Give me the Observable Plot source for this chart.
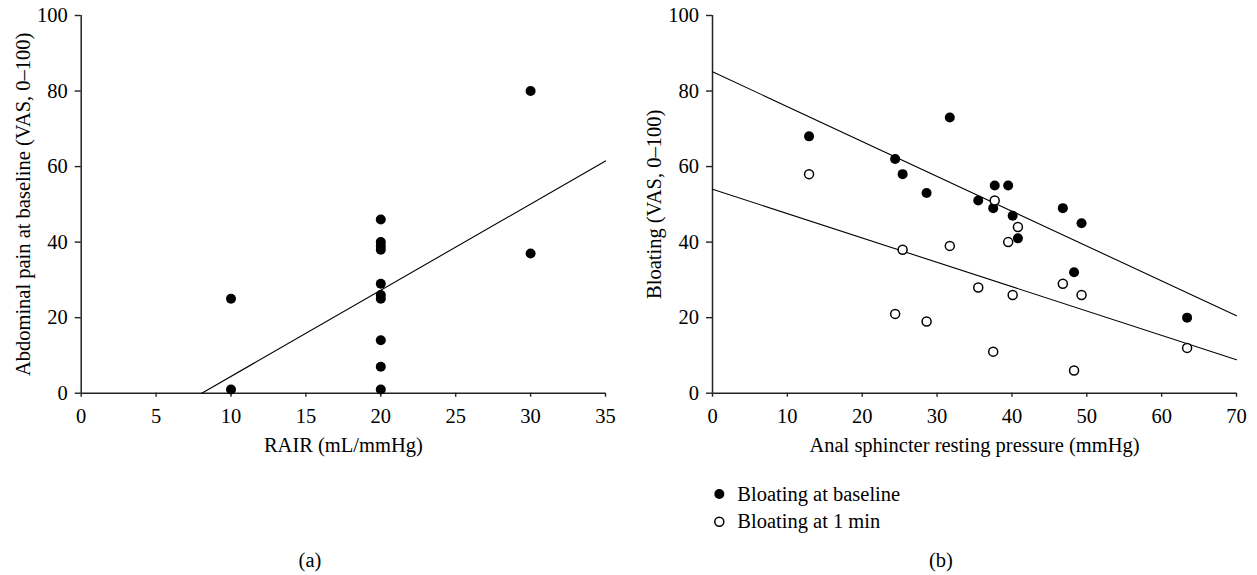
<!DOCTYPE html>
<html><head><meta charset="utf-8">
<script src="https://cdn.jsdelivr.net/npm/d3@7"></script>
<script src="https://cdn.jsdelivr.net/npm/@observablehq/plot@0.6"></script>
<style>
body{margin:0;background:#fff;}
#wrap{position:relative;width:1257px;height:575px;font-family:"Liberation Serif",serif;color:#000;background:#fff;overflow:hidden;}
.p{position:absolute;top:0;}
#overlay{position:absolute;left:0;top:0;}
</style></head><body><div id="wrap"></div>
<script>
// Panel (a)
const rairX = [10, 10, 20, 20, 20, 20, 20, 20, 20, 20, 20, 20, 30, 30];
const painY = [25, 1, 46, 40, 39, 38, 29, 26, 25, 14, 7, 1, 80, 37];
const fitA_x = [8.05, 35];
const fitA_y = [0, 61.5];
const ticksA_x = [0, 5, 10, 15, 20, 25, 30, 35];
const ticksY = [0, 20, 40, 60, 80, 100];

// Panel (b)
const pressureX = [12.9, 24.4, 25.4, 28.6, 31.7, 35.5, 37.5, 37.7, 39.5, 40.1, 40.8, 46.8, 48.3, 49.3, 63.4];
const bloatBaseline = [68, 62, 58, 53, 73, 51, 49, 55, 55, 47, 41, 49, 32, 45, 20];
const bloat1min = [58, 21, 38, 19, 39, 28, 11, 51, 40, 26, 44, 29, 6, 26, 12];
const fitB_x = [0, 70];
const fitBase_y = [85.1, 20.5];
const fit1_y = [54.0, 8.85];
const ticksB_x = [0, 10, 20, 30, 40, 50, 60, 70];

const legendLabels = ["Bloating at baseline", "Bloating at 1 min"];
const panelLabels = ["(a)", "(b)"];

const FONT = "Liberation Serif";
const FS = 20.5;
const AX = "#222";

function panel({xs, ys, fits, xDomain, xTicks, xLabel, yLabel, width, marginLeft, marginRight}) {
  const H = 470;
  const marks = [
    Plot.ruleY([0], {stroke: AX, strokeWidth: 1.5}),
    Plot.ruleX([0], {stroke: AX, strokeWidth: 1.5}),
    Plot.axisX({ticks: xTicks, tickSize: 4, tickPadding: 11, stroke: AX, strokeWidth: 1.4,
      label: xLabel, labelAnchor: "center", labelOffset: 59, labelArrow: "none", fontSize: FS}),
    Plot.axisY({ticks: ticksY, tickSize: 6, tickPadding: 7.5, stroke: AX, strokeWidth: 1.4,
      label: yLabel, labelAnchor: "center", labelOffset: 66, labelArrow: "none", fontSize: FS})
  ];
  for (const f of fits) {
    marks.push(Plot.line(f.x.map((x, i) => ({x, y: f.y[i]})), {x: "x", y: "y", stroke: "#000", strokeWidth: 1.1}));
  }
  for (const s of ys) {
    const data = xs.map((x, i) => ({x, y: s.values[i]}));
    if (s.open) marks.push(Plot.dot(data, {x: "x", y: "y", r: 4.5, fill: "#fff", stroke: "#000", strokeWidth: 1.5}));
    else marks.push(Plot.dot(data, {x: "x", y: "y", r: 5, fill: "#000", stroke: "none"}));
  }
  return Plot.plot({
    width, height: H,
    marginLeft, marginRight, marginTop: 15, marginBottom: H - 392.7,
    x: {domain: xDomain, nice: false},
    y: {domain: [0, 100], nice: false},
    style: {fontFamily: FONT, fontSize: FS + "px", color: "#000", background: "transparent", overflow: "visible"},
    marks
  });
}

const wrap = document.getElementById("wrap");

const pa = panel({
  xs: rairX, ys: [{values: painY}], fits: [{x: fitA_x, y: fitA_y}],
  xDomain: [0, 35], xTicks: ticksA_x, xLabel: "RAIR (mL/mmHg)",
  yLabel: "Abdominal pain at baseline (VAS, 0–100)",
  width: 640, marginLeft: 80.7, marginRight: 35
});
pa.classList.add("p"); pa.style.left = "0px";
wrap.appendChild(pa);

const pb = panel({
  xs: pressureX, ys: [{values: bloatBaseline}, {values: bloat1min, open: true}],
  fits: [{x: fitB_x, y: fitBase_y}, {x: fitB_x, y: fit1_y}],
  xDomain: [0, 70], xTicks: ticksB_x, xLabel: "Anal sphincter resting pressure (mmHg)",
  yLabel: "Bloating (VAS, 0–100)",
  width: 617, marginLeft: 72, marginRight: 21
});
pb.classList.add("p"); pb.style.left = "640px";
wrap.appendChild(pb);

// Legend and panel labels
const ov = d3.select(wrap).append("svg").attr("id", "overlay")
  .attr("width", 1257).attr("height", 575)
  .style("font-family", FONT).style("font-size", FS + "px");
const lg = ov.selectAll("g.lg").data(legendLabels).join("g").attr("class", "lg")
  .attr("transform", (d, i) => `translate(719.3, ${494 + i * 27.7})`);
lg.append("circle").attr("r", (d, i) => i === 0 ? 5 : 4.5)
  .attr("fill", (d, i) => i === 0 ? "#000" : "#fff")
  .attr("stroke", (d, i) => i === 0 ? "none" : "#000").attr("stroke-width", 1.5);
lg.append("text").attr("x", 18).attr("y", 6.7).text(d => d);
ov.selectAll("text.pl").data(panelLabels).join("text").attr("class", "pl")
  .attr("x", (d, i) => i === 0 ? 310 : 941).attr("y", 567).attr("text-anchor", "middle").text(d => d);
</script>
</body></html>
